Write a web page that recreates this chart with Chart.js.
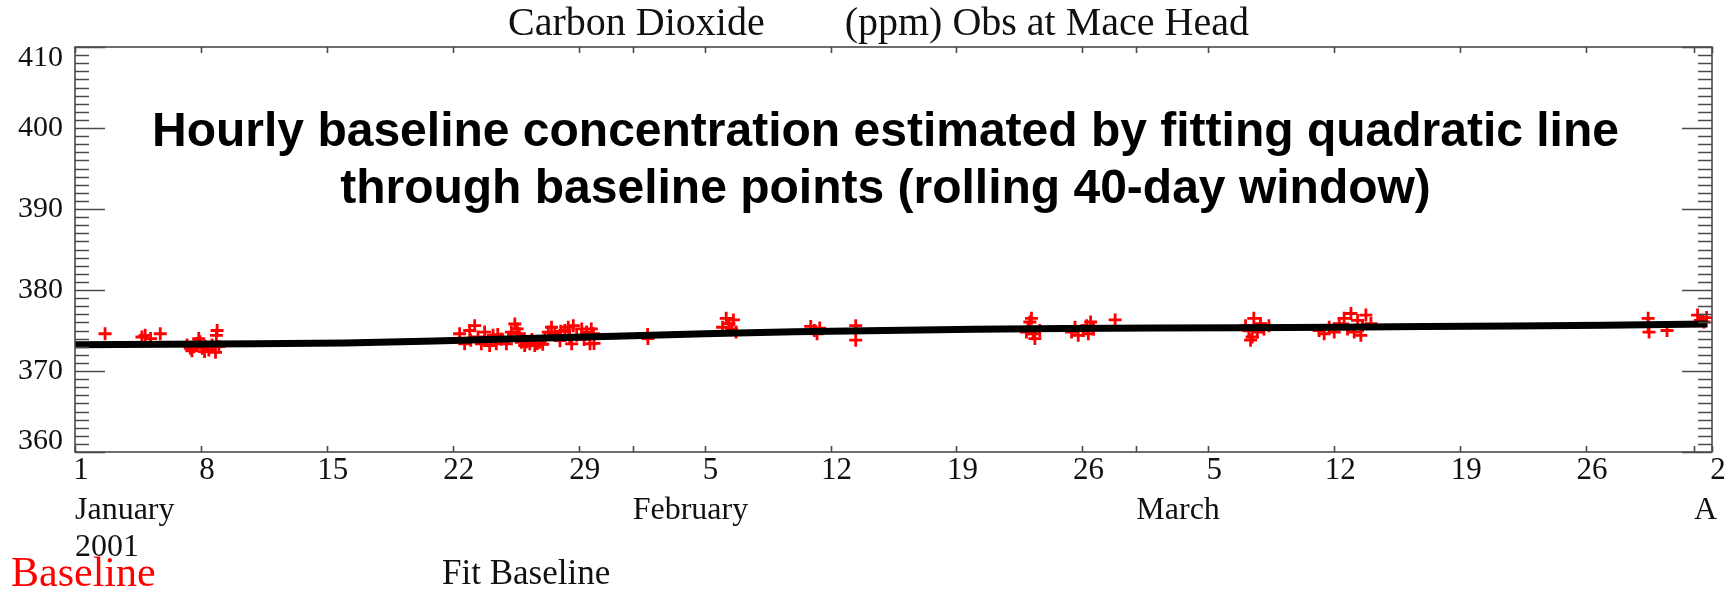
<!DOCTYPE html>
<html>
<head>
<meta charset="utf-8">
<title>Carbon Dioxide Mace Head</title>
<script src="https://cdn.jsdelivr.net/npm/chart.js@4.4.1/dist/chart.umd.min.js"></script>
<style>
  html, body { margin: 0; padding: 0; background: #fff; }
  #caja { width: 1725px; height: 592px; }
</style>
</head>
<body>
<div id="caja"><canvas id="myChart" width="1725" height="592"></canvas></div>
<script>
// days since 1 Jan 2001 (0 = Jan 1, 91 = Apr 2)
const baselineDays = [
  1.67, 3.72, 3.9, 4.2, 4.74, 6.23, 6.41, 6.5, 6.6, 6.79, 6.88, 6.95, 7.07, 7.2, 7.25, 7.44, 7.62, 7.81, 7.86, 7.9, 8.0,
  21.38, 21.66, 21.94, 22.0, 22.22, 22.4, 22.59, 22.77, 23.05, 23.24, 23.42, 23.5, 23.7, 23.98, 24.1, 24.26, 24.45, 24.58,
  24.7, 24.82, 25.0, 25.1, 25.28, 25.4, 25.56, 25.7, 25.84, 26.0, 26.12, 26.31, 26.49, 26.68, 26.96, 27.0, 27.23, 27.42,
  27.5, 27.61, 27.7, 27.89, 28.17, 28.3, 28.44, 28.63, 28.7, 28.82, 28.85,
  31.83, 31.85, 36.0, 36.2, 36.35, 36.5, 36.6, 36.75, 40.9, 41.1, 41.25, 41.4, 43.4, 43.4,
  52.89, 52.98, 53.08, 53.17, 53.26, 53.36, 53.63, 55.4, 55.59, 55.77, 56.05, 56.24, 56.33, 56.46, 56.61, 57.82,
  65.07, 65.25, 65.35, 65.44, 65.53, 65.72, 65.9, 66.09, 66.37,
  69.16, 69.44, 69.72, 70.0, 70.28, 70.55, 70.74, 70.93, 71.11, 71.3, 71.48, 71.57, 71.76, 72.04,
  87.45, 87.45, 87.5, 88.5, 90.2, 90.35, 90.55, 90.7
];
const baselinePpm = [
  374.6, 374.2, 374.4, 374.0, 374.6, 373.2, 372.8, 372.5, 373.0, 373.4, 374.0, 373.6, 372.8, 372.4, 373.0, 372.6, 373.2, 372.3, 374.4, 375.0, 373.0,
  374.6, 373.35, 375.0, 373.8, 375.6, 374.2, 373.35, 374.8, 373.15, 374.4, 373.35, 374.5, 373.95, 373.35, 374.0, 374.8, 375.8, 375.2,
  374.6, 373.55, 373.15, 373.6, 373.35, 373.9, 373.15, 373.4, 373.55, 373.3, 373.95, 374.8, 375.4, 374.6, 373.75, 374.9, 375.0, 375.4,
  374.0, 373.35, 375.6, 374.4, 375.2, 373.9, 374.8, 373.35, 375.2, 374.6, 373.4,
  374.5, 374.0, 375.4, 376.5, 375.85, 375.2, 376.3, 374.8, 375.5, 375.0, 374.6, 375.3, 375.6, 373.8,
  374.8, 375.2, 376.05, 376.5, 374.6, 374.0, 375.0, 374.8, 375.4, 374.4, 375.0, 375.6, 374.6, 376.05, 375.2, 376.3,
  375.6, 375.0, 373.8, 374.2, 376.5, 374.8, 375.85, 375.2, 375.6,
  375.0, 374.6, 375.4, 374.8, 375.85, 376.5, 375.2, 377.1, 374.8, 376.25, 374.4, 375.6, 376.9, 375.85,
  376.5, 375.6, 374.8, 375.0, 376.9, 376.25, 376.05, 376.6
];
const fitDays = [0, 5, 10, 15, 20, 25, 30, 35, 40, 45, 50, 55, 60, 65, 70, 75, 80, 85, 90.75];
const fitPpm = [373.25, 373.3, 373.35, 373.45, 373.7, 374.0, 374.3, 374.6, 374.85, 375.0, 375.15, 375.25, 375.3, 375.35, 375.4, 375.5, 375.55, 375.65, 375.8];

const dayTicks = [0, 7, 14, 21, 28, 35, 42, 49, 56, 63, 70, 77, 84, 91];
const dayLabels = ["1", "8", "15", "22", "29", "5", "12", "19", "26", "5", "12", "19", "26", "2"];
const monthTicks = [0, 31, 59, 90];
const monthLabels = [["January", "2001"], "February", "March", "A"];
const ppmTicks = [360, 370, 380, 390, 400, 410];

// trailing blanks nudge the centred title left, as in the original
const titulo = "Carbon Dioxide        (ppm) Obs at Mace Head   ";
const nota = [
  "Hourly baseline concentration estimated by fitting quadratic line",
  "through baseline points (rolling 40-day window)"
];

const serif = "'Liberation Serif', 'Times New Roman', serif";
const colorEje = "#4a4a4a";

// IDL style frame, inward ticks, note and legend text
const marcoIDL = {
  id: "marcoIDL",
  afterDraw(chart) {
    const ctx = chart.ctx;
    const { left, right, top, bottom } = chart.chartArea;
    const x = chart.scales.x;
    const y = chart.scales.y;
    ctx.save();
    ctx.strokeStyle = colorEje;
    ctx.lineWidth = 1.6;
    ctx.strokeRect(left, top, right - left, bottom - top);

    ctx.beginPath();
    for (let v = y.min; v <= y.max; v += 1) {
      const py = Math.round(y.getPixelForValue(v)) + 0.5;
      const largo = v % 10 === 0 ? 30 : 14;
      ctx.moveTo(left, py);
      ctx.lineTo(left + largo, py);
      ctx.moveTo(right, py);
      ctx.lineTo(right - largo, py);
    }
    dayTicks.concat(monthTicks).forEach((v) => {
      const px = Math.round(x.getPixelForValue(v)) + 0.5;
      ctx.moveTo(px, bottom);
      ctx.lineTo(px, bottom - 6);
      ctx.moveTo(px, top);
      ctx.lineTo(px, top + 6);
    });
    ctx.stroke();

    ctx.fillStyle = "#000";
    ctx.font = "bold 48px 'Liberation Sans', Arial, sans-serif";
    ctx.textAlign = "center";
    ctx.textBaseline = "middle";
    const cx = (left + right) / 2 - 8;
    ctx.fillText(nota[0], cx, top + 86);
    ctx.fillText(nota[1], cx, top + 143);

    ctx.textAlign = "left";
    const ds = chart.data.datasets;
    ctx.font = "42px " + serif;
    ctx.fillStyle = ds[1].borderColor;
    ctx.fillText(ds[1].label, 11, 575);
    ctx.font = "35px " + serif;
    ctx.fillStyle = "#111";
    ctx.fillText(ds[0].label, 442, 575);
    ctx.restore();
  }
};

function crearChart() {
  const ctx = document.getElementById("myChart").getContext("2d");
  new Chart(ctx, {
    data: {
      datasets: [
        {
          type: "line",
          label: "Fit Baseline",
          data: fitDays.map((d, i) => ({ x: d, y: fitPpm[i] })),
          borderColor: "#000",
          borderWidth: 7,
          pointRadius: 0,
          tension: 0,
          order: 0
        },
        {
          type: "scatter",
          label: "Baseline",
          data: baselineDays.map((d, i) => ({ x: d, y: baselinePpm[i] })),
          borderColor: "#ff0000",
          backgroundColor: "#ff0000",
          pointStyle: "cross",
          pointRadius: 6.5,
          borderWidth: 2.8,
          order: 1
        }
      ]
    },
    options: {
      responsive: false,
      animation: false,
      devicePixelRatio: 1,
      layout: { padding: { left: 0, right: 13, top: 0, bottom: 0 } },
      plugins: {
        legend: { display: false },
        tooltip: { enabled: false },
        title: {
          display: true,
          fullSize: false,
          text: titulo,
          color: "#111",
          font: { family: serif, size: 40, weight: "normal", lineHeight: 1.0 },
          padding: { top: 4, bottom: 3 }
        }
      },
      scales: {
        x: {
          type: "linear",
          position: "bottom",
          min: 0,
          max: 91,
          afterBuildTicks: (axis) => { axis.ticks = dayTicks.map((v) => ({ value: v })); },
          afterFit: (axis) => { axis.height = 41; },
          ticks: {
            autoSkip: false,
            maxRotation: 0,
            minRotation: 0,
            padding: 0,
            labelOffset: 6,
            color: "#111",
            font: { family: serif, size: 31, lineHeight: 1.2 },
            callback: (v, i) => dayLabels[i]
          },
          grid: { display: false, drawTicks: false },
          border: { display: false }
        },
        x2: {
          type: "linear",
          position: "bottom",
          min: 0,
          max: 91,
          afterBuildTicks: (axis) => { axis.ticks = monthTicks.map((v) => ({ value: v })); },
          afterFit: (axis) => { axis.height = 99; },
          ticks: {
            autoSkip: false,
            maxRotation: 0,
            minRotation: 0,
            align: "start",
            padding: 0,
            color: "#111",
            font: { family: serif, size: 32, lineHeight: 1.13 },
            callback: (v, i) => monthLabels[i]
          },
          grid: { display: false, drawTicks: false },
          border: { display: false }
        },
        y: {
          type: "linear",
          position: "left",
          min: 360,
          max: 410,
          afterBuildTicks: (axis) => { axis.ticks = ppmTicks.map((v) => ({ value: v })); },
          afterFit: (axis) => { axis.width = 75; },
          ticks: {
            padding: 12,
            color: "#111",
            font: { family: serif, size: 30, lineHeight: 0.75 },
            callback: (v) => (v === 410 ? ["", "410"] : v === 360 ? ["360", ""] : String(v))
          },
          grid: { display: false, drawTicks: false },
          border: { display: false }
        }
      }
    },
    plugins: [marcoIDL]
  });
}

crearChart();
</script>
</body>
</html>
